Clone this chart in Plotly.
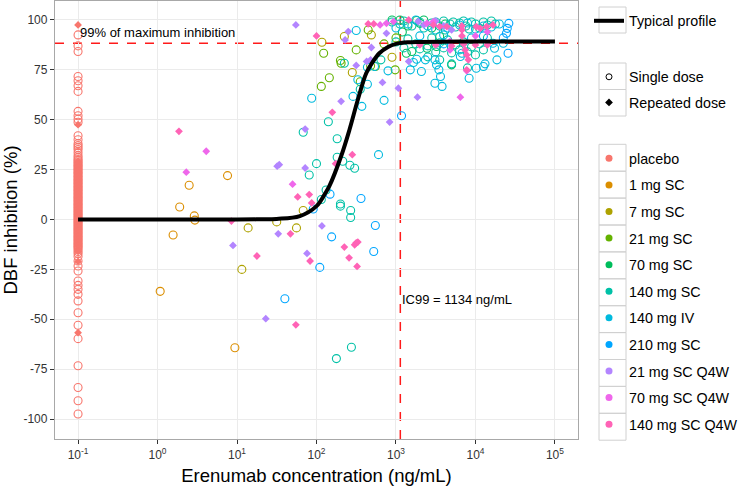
import math
import plotly.graph_objects as go

# dose groups and ggplot hue colours
groups = ["placebo", "1 mg SC", "7 mg SC", "21 mg SC", "70 mg SC", "140 mg SC",
          "140 mg IV", "210 mg SC", "21 mg SC Q4W", "70 mg SC Q4W", "140 mg SC Q4W"]
colors = ["#F8766D", "#DB8E00", "#AEA200", "#64B200", "#00BD5C", "#00C1A7",
          "#00BADE", "#00A6FF", "#B385FF", "#EF67EB", "#FF63B6"]

PLACEBO_CONC = 0.1
IC99 = 1134
IC99_INHIB = 88.3

# placebo, single-dose studies (open circles)
placebo_sd_inhib = [92.5, 87, 84.2, 71.7, 69.5, 67, 64.2, 54.2, 52, 50.3, 48.7, 42, 40, 38, 37, 36,
                    35, 33.5, 32, 31, 30, 29.3, 28.5, 27.8, 27, 26.4, 25.7, 25, 24.3, 23.6, 23,
                    22.2, 21.5, 20.8, 20.1, 19.4, 18.7, 18, 17.3, 16.6, 15.9, 15.2, 14.5, 13.8,
                    13.1, 12.4, 11.7, 11, 10.3, 9.6, 8.9, 8.2, 7.5, 6.8, 6.1, 5.4, 4.7, 4, 3.3,
                    2.6, 1.9, 1.2, 0.5, -0.2, -0.9, -1.6, -2.3, -3, -3.7, -4.4, -5.1, -5.8, -6.5,
                    -7.2, -7.9, -8.6, -9.3, -10, -10.7, -11.4, -12.1, -12.8, -13.5, -14.2, -15,
                    -16, -17, -18.5, -20.8, -23.3, -25.8, -30.8, -33, -35, -37.5, -40.8, -46.7,
                    -53, -59.7, -73.3, -84.2, -90.8, -97.5]
# placebo, repeated-dose studies (diamonds)
placebo_rd_inhib = [97.5, 47.5, 29, 27.5, 26, 24.5, 23, 21.5, 20, 18.5, 17, 15.5, 14, 12.5, 11,
                    9.5, 8, 6.5, 5, 3.5, 2, 0.5, -1, -2.5, -4, -5.5, -7, -8.5, -10, -11.5, -13,
                    -14.5, -16, -21, -56.7]

# single-dose arms: concentration (ng/mL) and inhibition (%)
sc1_conc = [7.6, 2.5, 1.9, 2.9, 2.95, 1.57, 1.08, 9.4]
sc1_inhib = [22, 17.2, 6.3, 1.8, -0.3, -7.8, -36, -64.3]

sc7_conc = [13.8, 11.5, 31.6, 56, 68, 117, 282, 224, 490, 891]
sc7_inhib = [-4.2, -25, -1.2, -4.2, 4.5, 88.8, 73.7, 91.7, 92.5, 81.3]

sc21_conc = [200, 204, 123, 145, 115, 355, 479, 316, 550, 977, 447, 708, 1000]
sc21_inhib = [79.7, 78.3, 83.3, 71, 66.7, 69, 77, 85, 76.7, 75, 95, 88, 91]

sc70_conc = [891, 1122, 1820, 1995, 2239, 1202, 1585, 2455, 3236, 3548, 4169, 1349, 5012, 2818, 1413]
sc70_inhib = [100, 100, 99.7, 98.3, 100, 94, 84.2, 85.8, 86.7, 91.7, 98, 83.3, 77.5, 96, 97]

sc140_conc = [68, 141, 182, 100, 81, 182, 214, 263, 302, 132, 115, 200, 200, 269, 269, 178, 275,
              355, 646, 224,
              891, 1122, 1259, 1585, 1995, 2239, 2818, 3162, 3548, 3981, 4169, 4786, 5248, 5623,
              6310, 7079, 7586, 8318, 8913, 10000, 11220, 12589, 14125, 15849, 17783,
              1000, 1259, 1413, 1778, 1995, 2512, 2818, 3162, 3548, 3981, 4467, 5012, 5623, 6310,
              7079, 7943, 8913, 10000, 11220, 12589, 14125, 5012, 7943, 3548, 2512]
sc140_inhib = [43.7, 49, 40.5, 28, 22.3, 31.2, 29.2, 27.2, 25.7, 14.8, 10, 7.8, 6.7, 4.5, 1, -69.7,
               -64, 65.3, 80, 78.3,
               99, 98, 99.5, 97, 99, 96, 98.5, 99, 97, 99.5, 95, 98, 99, 96.5, 98.5, 99.5, 97,
               95.5, 99, 98, 96, 99, 97.5, 99.5, 98,
               89, 86, 90.5, 88, 85.5, 87, 91, 84, 88.5, 86, 90, 83.5, 87.5, 85, 89, 84, 86.5,
               82.5, 88, 85, 91, 78, 76, 80, 81.5]

iv140_conc = [87, 288, 331, 372, 437, 316, 437, 537, 794, 708, 1514, 1660, 1820, 2089, 2344, 3090,
              3236, 3467, 3631, 3802, 3090, 6457, 6761, 8318, 10233, 12589, 13183, 18621, 603,
              1000, 1413, 1778, 2512, 3162, 4467, 6310, 7943, 10000, 12589, 15849, 19953, 22387,
              16596, 17378, 1995, 3981, 8913]
iv140_inhib = [60.8, 61.7, 70, 56.7, 67.8, 94.7, 76.3, 76.7, 74.5, 59.7, 75, 78.7, 80.3, 74.2, 80,
               80, 77.5, 75, 71.7, 66.7, 68.3, 81.7, 83.3, 70.8, 75.8, 76.7, 78, 80, 32.5,
               96, 98, 100, 97, 95, 96, 97.5, 98.5, 95.5, 97, 96.5, 98, 88.3, 88.3, 85.8, 92,
               92.5, 91]

sc210_conc = [40, 110, 155, 525, 550, 363, 91, 148, 1175, 24547, 25119, 26303, 25704, 22387,
              12589, 3981]
sc210_inhib = [-39.7, -24, -8.7, -16, -3, 10.5, 5.3, 12.7, 52, 93.3, 95.8, 98.3, 83.3, 91, 92, 88]

# repeated-dose arms (Q4W)
q21_conc = [8.9, 33, 32, 34, 23, 72, 72, 76, 117, 55, 204, 251, 229, 490, 479, 676, 1072, 832,
            1862, 1445, 759, 1905, 2239, 316, 427, 3162, 3981, 5012]
q21_inhib = [-13, -7.2, 26.7, 27.5, -49.7, 45.3, 25.8, -17, -3.2, 97.5, 59.2, 94.2, 90, 86.2, 80,
             68.7, 65.8, 48.8, 61.3, 79.2, 93.3, 99.2, 97.5, 77.2, 79.2, 99.5, 97, 95]

q70_conc = [4.1, 2.3, 50, 631, 759, 933, 2455, 2951, 4786, 4786, 6457, 7762, 10000, 14125]
q70_inhib = [34.2, 23.7, 17.7, 97.5, 98.3, 99.2, 98.3, 99.2, 85, 89.3, 61.3, 74.5, 92, 94]

q140_conc = [1.86, 17.8, 55, 58, 81, 87, 47, 83, 224, 302, 316, 331, 257, 324, 174, 282, 158, 100,
             8.5, 447, 525, 1445, 2951, 3548, 4365, 6761, 6761, 6761, 7413, 7762, 8128, 7762,
             10233, 11482, 13804, 16596, 1995, 3162, 5012, 7079, 10000, 14125]
q140_inhib = [44.2, -18.3, -52.8, 11.3, 12.5, 8.3, -7.2, -20.8, -13.8, -12.7, -11.7, -11.3, -19.2,
              -23.5, 28, 32.5, 53.7, 92, -0.8, 98, 98, 100, 97.5, 96.7, 96.7, 92, 95, 97, 85, 82.5,
              80, 75, 96.7, 95.8, 96.7, 97.5, 87.5, 87.5, 87, 88, 87.5, 87.5]

# typical profile
profile_conc = [0.1, 10, 20, 31.6, 61.7, 100, 126, 145, 204, 260, 331, 422, 501, 617, 794, 1000,
                1413, 1995, 10000, 100000]
profile_inhib = [0, 0, 0.1, 0.3, 1.7, 6.7, 12.5, 16.7, 31.7, 45, 60, 73.3, 78.5, 83.3, 86.5, 88,
                 88.8, 89, 89.2, 89.2]

single = {
    "placebo": ([PLACEBO_CONC] * len(placebo_sd_inhib), placebo_sd_inhib),
    "1 mg SC": (sc1_conc, sc1_inhib),
    "7 mg SC": (sc7_conc, sc7_inhib),
    "21 mg SC": (sc21_conc, sc21_inhib),
    "70 mg SC": (sc70_conc, sc70_inhib),
    "140 mg SC": (sc140_conc, sc140_inhib),
    "140 mg IV": (iv140_conc, iv140_inhib),
    "210 mg SC": (sc210_conc, sc210_inhib),
}
repeated = {
    "placebo": ([PLACEBO_CONC] * len(placebo_rd_inhib), placebo_rd_inhib),
    "21 mg SC Q4W": (q21_conc, q21_inhib),
    "70 mg SC Q4W": (q70_conc, q70_inhib),
    "140 mg SC Q4W": (q140_conc, q140_inhib),
}
col = dict(zip(groups, colors))

fig = go.Figure()

for g, (xs, ys) in single.items():
    fig.add_trace(go.Scatter(x=xs, y=ys, mode="markers", showlegend=False,
                             marker=dict(symbol="circle-open", size=8, color=col[g],
                                         line=dict(width=1.1, color=col[g]))))
for g, (xs, ys) in repeated.items():
    fig.add_trace(go.Scatter(x=xs, y=ys, mode="markers", showlegend=False,
                             marker=dict(symbol="diamond", size=6, color=col[g])))

fig.add_trace(go.Scatter(x=profile_conc, y=profile_inhib, mode="lines", line_shape="spline",
                         line=dict(color="black", width=4), name="Typical profile",
                         legend="legend"))

# legend-only entries
fig.add_trace(go.Scatter(x=[None], y=[None], mode="markers", name="Single dose", legend="legend2",
                         legendgroup="sd", marker=dict(symbol="circle-open", size=6, color="black",
                                                       line=dict(width=1))))
fig.add_trace(go.Scatter(x=[None], y=[None], mode="markers", name="Repeated dose", legend="legend2",
                         legendgroup="rd", marker=dict(symbol="diamond", size=6, color="black")))
for g in groups:
    fig.add_trace(go.Scatter(x=[None], y=[None], mode="markers", name=g, legend="legend3",
                             legendgroup=g, marker=dict(symbol="circle", size=7, color=col[g])))


def px_x(p):
    return (p - 55) / 523


def px_y(p):
    return (439 - p) / 438


shapes = [
    dict(type="line", xref="paper", x0=0, x1=1, yref="y", y0=IC99_INHIB, y1=IC99_INHIB,
         line=dict(color="#FF1A1A", width=1.5, dash="dash"), layer="between"),
    dict(type="line", xref="x", x0=IC99, x1=IC99, yref="paper", y0=0, y1=1,
         line=dict(color="#FF1A1A", width=1.5, dash="dash"), layer="between"),
]
key_boxes = [(7, 33), (63, 89.5), (89.5, 116)] + [(144.3 + k * 26.9, 144.3 + (k + 1) * 26.9)
                                                   for k in range(11)]
for top, bot in key_boxes:
    shapes.append(dict(type="rect", xref="paper", yref="paper", x0=px_x(599), x1=px_x(626),
                       y0=px_y(bot), y1=px_y(top), line=dict(color="#D0D0D0", width=1)))

leg_common = dict(x=px_x(589), xanchor="left", yanchor="top", bgcolor="rgba(0,0,0,0)",
                  font=dict(size=14.3, color="black"), borderwidth=0)

fig.update_layout(
    width=742, height=486,
    margin=dict(l=55, r=164, t=1, b=47, autoexpand=False),
    plot_bgcolor="white", paper_bgcolor="white",
    font=dict(family="Liberation Sans, Arial, sans-serif", color="black"),
    shapes=shapes,
    legend=dict(y=px_y(5), **leg_common),
    legend2=dict(y=px_y(61), tracegroupgap=4, traceorder="grouped", **leg_common),
    legend3=dict(y=px_y(142.5), tracegroupgap=5, traceorder="grouped", **leg_common),
    annotations=[
        dict(x=-1, y=93.5, xref="x", yref="y", text="99% of maximum inhibition", showarrow=False,
             xanchor="left", yanchor="middle", font=dict(size=13)),
        dict(x=math.log10(IC99), y=-40.3, xref="x", yref="y", text="IC99 = 1134 ng/mL",
             showarrow=False, xanchor="left", yanchor="middle", font=dict(size=13)),
    ],
)

xtick_vals = [0.1, 1, 10, 100, 1000, 10000, 100000]
xtick_text = ["10<sup>-1</sup>", "10<sup>0</sup>", "10<sup>1</sup>", "10<sup>2</sup>",
              "10<sup>3</sup>", "10<sup>4</sup>", "10<sup>5</sup>"]
ytick_vals = [-100, -75, -50, -25, 0, 25, 50, 75, 100]
ytick_text = ["-100", "-75", "-50", "-25", "0", "25", "50", "75", "100"]

axis_common = dict(showgrid=True, gridcolor="#EBEBEB", gridwidth=1, zeroline=False,
                   showline=True, linecolor="#A8A8A8", linewidth=1.3, mirror=True,
                   ticks="outside", ticklen=4, tickcolor="#333333", automargin=False,
                   tickfont=dict(size=12, color="#333333"))
fig.update_xaxes(type="log", range=[-1.29, 5.29], tickvals=xtick_vals, ticktext=xtick_text,
                 title=dict(text="Erenumab concentration (ng/mL)", font=dict(size=18.5), standoff=12),
                 **axis_common)
fig.update_yaxes(range=[-110, 109.5], tickvals=ytick_vals, ticktext=ytick_text,
                 title=dict(text="DBF inhibition (%)", font=dict(size=18.5), standoff=4),
                 **axis_common)

# drop the page's default body margin so the figure sits at the window's corner
fig.write_html("out.html", config={"displayModeBar": False},
               post_script="document.body.style.margin = '0';")
